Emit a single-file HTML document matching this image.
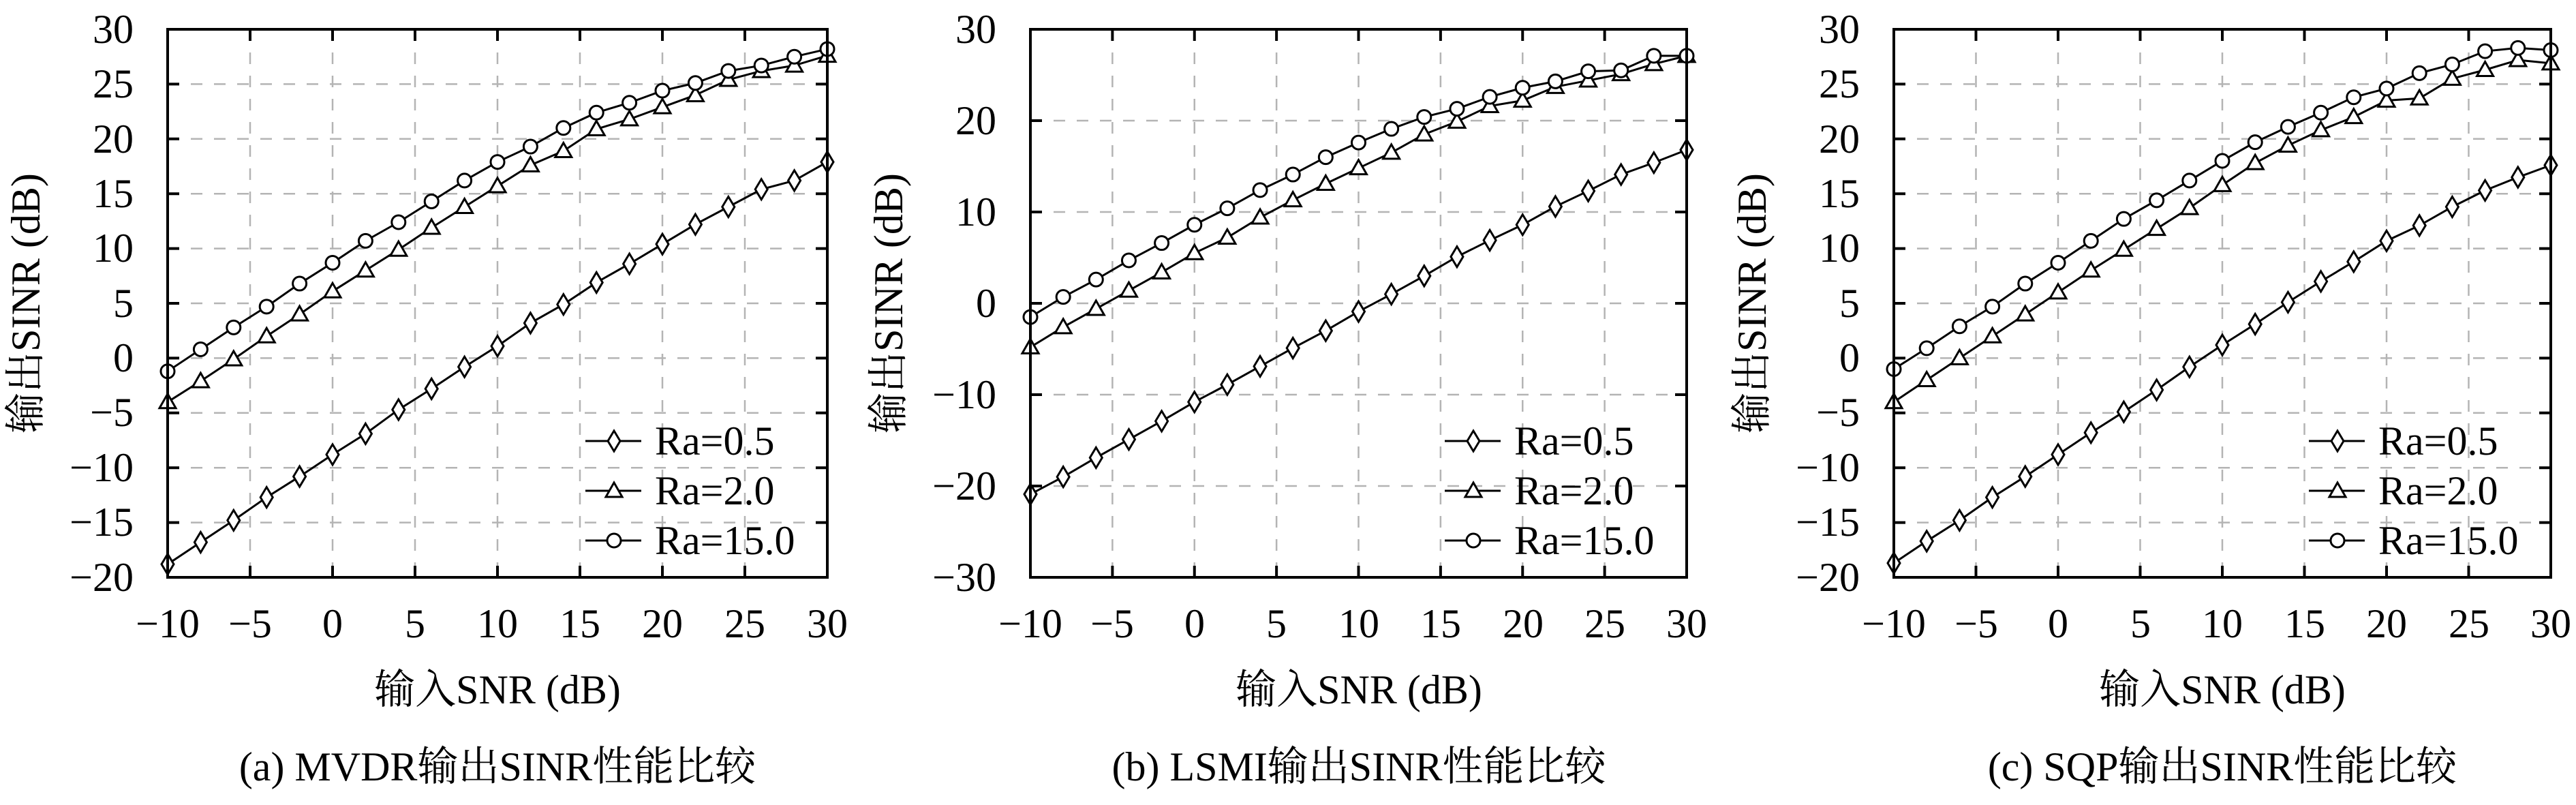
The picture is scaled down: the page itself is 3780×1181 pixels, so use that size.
<!DOCTYPE html>
<html><head><meta charset="utf-8"><style>
html,body{margin:0;padding:0;background:#fff;}
svg{display:block}
text{fill:#000;font-family:"Liberation Serif","Noto Serif CJK SC",serif}
</style></head><body>
<svg id="s" width="3780" height="1181" viewBox="0 0 3780 1181" xmlns="http://www.w3.org/2000/svg">
<g id="plots"></g>
<g font-size="60" text-anchor="end">
<text x="196" y="63">30</text><text x="196" y="143">25</text><text x="196" y="224">20</text><text x="196" y="304">15</text><text x="196" y="384">10</text><text x="196" y="465">5</text><text x="196" y="545">0</text><text x="196" y="625">−5</text><text x="196" y="706">−10</text><text x="196" y="786">−15</text><text x="196" y="867">−20</text>
</g>
<g font-size="60" text-anchor="middle">
<text x="246" y="935">−10</text><text x="367" y="935">−5</text><text x="488" y="935">0</text><text x="609" y="935">5</text><text x="730" y="935">10</text><text x="851" y="935">15</text><text x="972" y="935">20</text><text x="1093" y="935">25</text><text x="1214" y="935">30</text>
</g>
<text x="730" y="1032" font-size="60" text-anchor="middle">输入SNR (dB)</text>
<text transform="translate(58,445) rotate(-90)" font-size="60" text-anchor="middle">输出SINR (dB)</text>
<text x="730" y="1145" font-size="60" text-anchor="middle">(a) MVDR输出SINR性能比较</text>
<g font-size="60"><text x="961" y="667">Ra=0.5</text><text x="961" y="740">Ra=2.0</text><text x="961" y="813">Ra=15.0</text></g>

<g font-size="60" text-anchor="end">
<text x="1462" y="63">30</text><text x="1462" y="197">20</text><text x="1462" y="331">10</text><text x="1462" y="465">0</text><text x="1462" y="599">−10</text><text x="1462" y="733">−20</text><text x="1462" y="867">−30</text>
</g>
<g font-size="60" text-anchor="middle">
<text x="1512" y="935">−10</text><text x="1632" y="935">−5</text><text x="1753" y="935">0</text><text x="1873" y="935">5</text><text x="1994" y="935">10</text><text x="2114" y="935">15</text><text x="2235" y="935">20</text><text x="2355" y="935">25</text><text x="2475" y="935">30</text>
</g>
<text x="1994" y="1032" font-size="60" text-anchor="middle">输入SNR (dB)</text>
<text transform="translate(1324,445) rotate(-90)" font-size="60" text-anchor="middle">输出SINR (dB)</text>
<text x="1994" y="1145" font-size="60" text-anchor="middle">(b) LSMI输出SINR性能比较</text>
<g font-size="60"><text x="2222" y="667">Ra=0.5</text><text x="2222" y="740">Ra=2.0</text><text x="2222" y="813">Ra=15.0</text></g>

<g font-size="60" text-anchor="end">
<text x="2729" y="63">30</text><text x="2729" y="143">25</text><text x="2729" y="224">20</text><text x="2729" y="304">15</text><text x="2729" y="384">10</text><text x="2729" y="465">5</text><text x="2729" y="545">0</text><text x="2729" y="625">−5</text><text x="2729" y="706">−10</text><text x="2729" y="786">−15</text><text x="2729" y="867">−20</text>
</g>
<g font-size="60" text-anchor="middle">
<text x="2779" y="935">−10</text><text x="2900" y="935">−5</text><text x="3020" y="935">0</text><text x="3141" y="935">5</text><text x="3261" y="935">10</text><text x="3382" y="935">15</text><text x="3502" y="935">20</text><text x="3623" y="935">25</text><text x="3743" y="935">30</text>
</g>
<text x="3261" y="1032" font-size="60" text-anchor="middle">输入SNR (dB)</text>
<text transform="translate(2591,445) rotate(-90)" font-size="60" text-anchor="middle">输出SINR (dB)</text>
<text x="3261" y="1145" font-size="60" text-anchor="middle">(c) SQP输出SINR性能比较</text>
<g font-size="60"><text x="3490" y="667">Ra=0.5</text><text x="3490" y="740">Ra=2.0</text><text x="3490" y="813">Ra=15.0</text></g>
</svg>
<script>
var NS="http://www.w3.org/2000/svg",G=document.getElementById("plots");
function el(t,a){var e=document.createElementNS(NS,t);for(var k in a)e.setAttribute(k,a[k]);G.appendChild(e);return e;}
function marker(type,x,y){
 if(type==0)el("polygon",{points:(x)+","+(y-15)+" "+(x+9)+","+y+" "+x+","+(y+15)+" "+(x-9)+","+y,fill:"#fff",stroke:"#000","stroke-width":3});
 else if(type==1)el("polygon",{points:(x)+","+(y-12)+" "+(x+12)+","+(y+9)+" "+(x-12)+","+(y+9),fill:"#fff",stroke:"#000","stroke-width":3});
 else el("circle",{cx:x,cy:y,r:10,fill:"#fff",stroke:"#000","stroke-width":3});
}
var P=[
{L:246,R:1214,ymin:-20,ymax:30,ys:[30,25,20,15,10,5,0,-5,-10,-15,-20],d:[
[-18.8,-16.8,-14.8,-12.7,-10.8,-8.8,-6.9,-4.7,-2.8,-0.8,1.1,3.2,4.9,6.9,8.6,10.4,12.2,13.8,15.4,16.2,17.9],
[-4.0,-2.1,-0.1,2.0,4.0,6.1,8.0,9.9,11.9,13.8,15.7,17.6,18.9,20.9,21.8,22.9,24.0,25.4,26.2,26.7,27.6],
[-1.2,0.8,2.8,4.7,6.8,8.7,10.7,12.4,14.3,16.2,17.9,19.3,21.0,22.4,23.3,24.4,25.1,26.2,26.7,27.5,28.2]]},
{L:1512,R:2475,ymin:-30,ymax:30,ys:[30,20,10,0,-10,-20,-30],d:[
[-20.9,-19.0,-16.9,-14.9,-12.9,-10.8,-8.9,-6.9,-4.9,-3.0,-0.9,1.0,3.0,5.1,6.9,8.6,10.6,12.3,14.1,15.4,16.8],
[-4.8,-2.6,-0.6,1.4,3.4,5.5,7.2,9.4,11.3,13.1,14.8,16.5,18.5,19.9,21.6,22.2,23.7,24.4,25.1,26.2,27.1],
[-1.5,0.7,2.6,4.7,6.6,8.6,10.4,12.4,14.1,16.0,17.6,19.1,20.4,21.3,22.6,23.6,24.3,25.4,25.5,27.1,27.1]]},
{L:2779,R:3743,ymin:-20,ymax:30,ys:[30,25,20,15,10,5,0,-5,-10,-15,-20],d:[
[-18.7,-16.7,-14.8,-12.7,-10.8,-8.8,-6.8,-4.9,-2.9,-0.8,1.2,3.1,5.1,7.0,8.8,10.7,12.1,13.8,15.3,16.5,17.6],
[-4.0,-2.0,0.0,2.0,4.0,6.0,8.0,9.9,11.8,13.7,15.8,17.8,19.4,20.8,22.0,23.5,23.7,25.5,26.3,27.2,26.9],
[-1.0,0.9,2.9,4.7,6.8,8.7,10.7,12.7,14.4,16.2,18.0,19.7,21.1,22.4,23.8,24.6,26.0,26.8,28.0,28.3,28.1]]}];
var T=43,B=847;
P.forEach(function(p){
 var W=p.R-p.L;
 function X(v){return p.L+(v+10)/40*W;}
 function Y(v){return B-(v-p.ymin)/(p.ymax-p.ymin)*(B-T);}
 for(var v=-5;v<30;v+=5)el("line",{x1:X(v),x2:X(v),y1:T,y2:B,stroke:"#b4b4b4","stroke-width":2.5,"stroke-dasharray":"17,17"});
 p.ys.forEach(function(v){if(v!=p.ymin&&v!=p.ymax)el("line",{x1:p.L,x2:p.R,y1:Y(v),y2:Y(v),stroke:"#b4b4b4","stroke-width":2.5,"stroke-dasharray":"17,17"});});
 for(var v=-5;v<30;v+=5){el("line",{x1:X(v),x2:X(v),y1:T,y2:T+17,stroke:"#000","stroke-width":4});el("line",{x1:X(v),x2:X(v),y1:B,y2:B-17,stroke:"#000","stroke-width":4});}
 p.ys.forEach(function(v){el("line",{x1:p.L,x2:p.L+17,y1:Y(v),y2:Y(v),stroke:"#000","stroke-width":4});el("line",{x1:p.R,x2:p.R-17,y1:Y(v),y2:Y(v),stroke:"#000","stroke-width":4});});
 p.d.forEach(function(s,k){
  var pts=s.map(function(v,i){return X(-10+2*i)+","+Y(v);}).join(" ");
  el("polyline",{points:pts,fill:"none",stroke:"#000","stroke-width":3});
  s.forEach(function(v,i){marker(k,X(-10+2*i),Y(v));});
 });
 el("rect",{x:p.L,y:T,width:W,height:B-T,fill:"none",stroke:"#000","stroke-width":4});
 var ly=[647,720,793];
 for(var k=0;k<3;k++){el("line",{x1:p.R-355,x2:p.R-273,y1:ly[k],y2:ly[k],stroke:"#000","stroke-width":3});marker(k,p.R-313,ly[k]);}
});
</script>
</body></html>
